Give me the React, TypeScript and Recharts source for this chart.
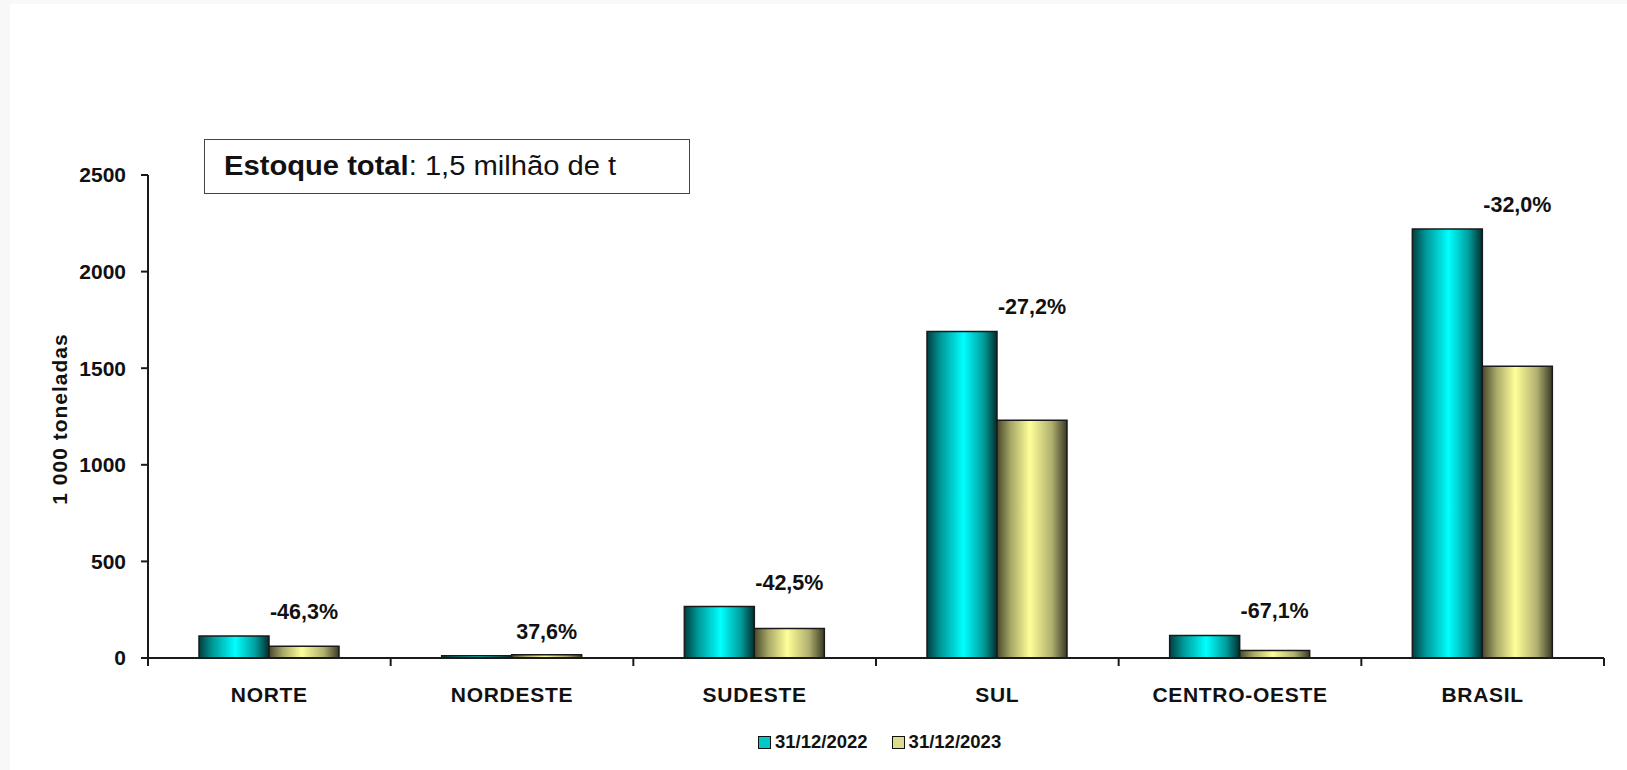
import { BarChart, Bar, XAxis, YAxis, Legend, LabelList } from "recharts";

const regions = ["NORTE", "NORDESTE", "SUDESTE", "SUL", "CENTRO-OESTE", "BRASIL"];
const stock2022 = [114, 12, 266, 1690, 117, 2220];
const stock2023 = [61, 16.5, 153, 1230, 38.5, 1510];
const changeLabels = ["-46,3%", "37,6%", "-42,5%", "-27,2%", "-67,1%", "-32,0%"];
const yTicks = [0, 500, 1000, 1500, 2000, 2500];
const seriesNames = ["31/12/2022", "31/12/2023"];

const data = regions.map((region, i) => ({
  region,
  v2022: stock2022[i],
  v2023: stock2023[i],
  change: changeLabels[i]
}));

const W = 1627;
const H = 770;
const PLOT_LEFT = 148;
const PLOT_RIGHT = 1604;
const PLOT_BOTTOM = 658;
const BAND = (PLOT_RIGHT - PLOT_LEFT) / regions.length;
const FONT = "'Liberation Sans', Arial, sans-serif";
const INK = "#1a1a1a";

function RegionTick(props: any) {
  const { x, payload, index } = props;
  return (
    <g>
      {index === 0 && (
        <line x1={x - BAND / 2} x2={x - BAND / 2} y1={PLOT_BOTTOM} y2={PLOT_BOTTOM + 8} stroke={INK} strokeWidth={2} />
      )}
      <line x1={x + BAND / 2} x2={x + BAND / 2} y1={PLOT_BOTTOM} y2={PLOT_BOTTOM + 8} stroke={INK} strokeWidth={2} />
      <text
        x={x}
        y={PLOT_BOTTOM + 36}
        textAnchor="middle"
        dominantBaseline="central"
        fontFamily={FONT}
        fontWeight="bold"
        fontSize={21}
        letterSpacing={0.7}
        fill="#111"
      >
        {payload.value}
      </text>
    </g>
  );
}

function ChangeLabel(props: any) {
  const { x, y, width, value } = props;
  return (
    <text
      x={Number(x) + Number(width) * 1.5}
      y={Number(y) - 24}
      textAnchor="middle"
      dominantBaseline="central"
      fontFamily={FONT}
      fontWeight="bold"
      fontSize={21.5}
      fill="#111"
    >
      {value}
    </text>
  );
}

function LegendBox() {
  const swatches = ["#00c8c8", "#dcdc8c"];
  return (
    <div style={{ display: "flex", alignItems: "center", height: 20, fontFamily: FONT, fontWeight: "bold", fontSize: 18.5, color: "#111" }}>
      {seriesNames.map((name, i) => (
        <div key={name} style={{ display: "flex", alignItems: "center", marginRight: 24 }}>
          <span style={{ width: 11, height: 11, background: swatches[i], border: "1.5px solid #111", marginRight: 4 }} />
          <span>{name}</span>
        </div>
      ))}
    </div>
  );
}

export default function App() {
  return (
    <div style={{ position: "fixed", left: 0, top: 0, width: W, height: H, background: "#f8f8f8" }}>
      <div style={{ position: "absolute", left: 10, top: 4, right: 0, bottom: 0, background: "#fff" }} />
      <div style={{ position: "absolute", left: 0, top: 0 }}>
        <BarChart
          width={W}
          height={H}
          data={data}
          margin={{ top: 175, right: 23, bottom: 18, left: 0 }}
          barSize={70}
          barGap={0}
        >
          <defs>
            <linearGradient id="cyanGrad" x1="0" y1="0" x2="1" y2="0">
              <stop offset="0%" stopColor="#003f3f" />
              <stop offset="20%" stopColor="#009a9a" />
              <stop offset="52%" stopColor="#00ffff" />
              <stop offset="80%" stopColor="#00a0a0" />
              <stop offset="100%" stopColor="#002e2e" />
            </linearGradient>
            <linearGradient id="yellowGrad" x1="0" y1="0" x2="1" y2="0">
              <stop offset="0%" stopColor="#48482c" />
              <stop offset="20%" stopColor="#a8a868" />
              <stop offset="47%" stopColor="#ffff99" />
              <stop offset="78%" stopColor="#b0b070" />
              <stop offset="100%" stopColor="#3a3a26" />
            </linearGradient>
          </defs>
          <XAxis
            dataKey="region"
            height={74}
            interval={0}
            axisLine={{ stroke: INK, strokeWidth: 2 }}
            tickLine={false}
            tick={<RegionTick />}
          />
          <YAxis
            width={148}
            domain={[0, 2500]}
            ticks={yTicks}
            interval={0}
            tickSize={7}
            tickMargin={15}
            axisLine={{ stroke: INK, strokeWidth: 2 }}
            tickLine={{ stroke: INK, strokeWidth: 2 }}
            tick={{ fontFamily: FONT, fontWeight: "bold", fontSize: 21, fill: "#111" }}
            label={{
              content: () => (
                <text
                  x={59}
                  y={419}
                  transform="rotate(-90, 59, 419)"
                  textAnchor="middle"
                  dominantBaseline="central"
                  fontFamily={FONT}
                  fontWeight="bold"
                  fontSize={21}
                  letterSpacing={1}
                  fill="#111"
                >
                  1 000 toneladas
                </text>
              )
            }}
          />
          <Legend
            verticalAlign="bottom"
            content={<LegendBox />}
            wrapperStyle={{ left: 758, bottom: 18, height: 20, width: 270 }}
          />
          <Bar dataKey="v2022" name={seriesNames[0]} fill="url(#cyanGrad)" stroke={INK} strokeWidth={1.5} isAnimationActive={false}>
            <LabelList dataKey="change" content={<ChangeLabel />} />
          </Bar>
          <Bar dataKey="v2023" name={seriesNames[1]} fill="url(#yellowGrad)" stroke={INK} strokeWidth={1.5} isAnimationActive={false} />
        </BarChart>
      </div>
      <div
        style={{
          position: "absolute",
          left: 204,
          top: 139,
          width: 486,
          height: 55,
          boxSizing: "border-box",
          border: "1px solid #444",
          background: "#fff",
          display: "flex",
          alignItems: "center",
          paddingLeft: 19,
          fontFamily: FONT,
          fontSize: 27,
          color: "#111"
        }}
      >
        <span style={{ display: "inline-block", transform: "scaleX(1.08)", transformOrigin: "left center", whiteSpace: "nowrap" }}>
          <b>Estoque total</b>: 1,5 milhão de t
        </span>
      </div>
    </div>
  );
}
